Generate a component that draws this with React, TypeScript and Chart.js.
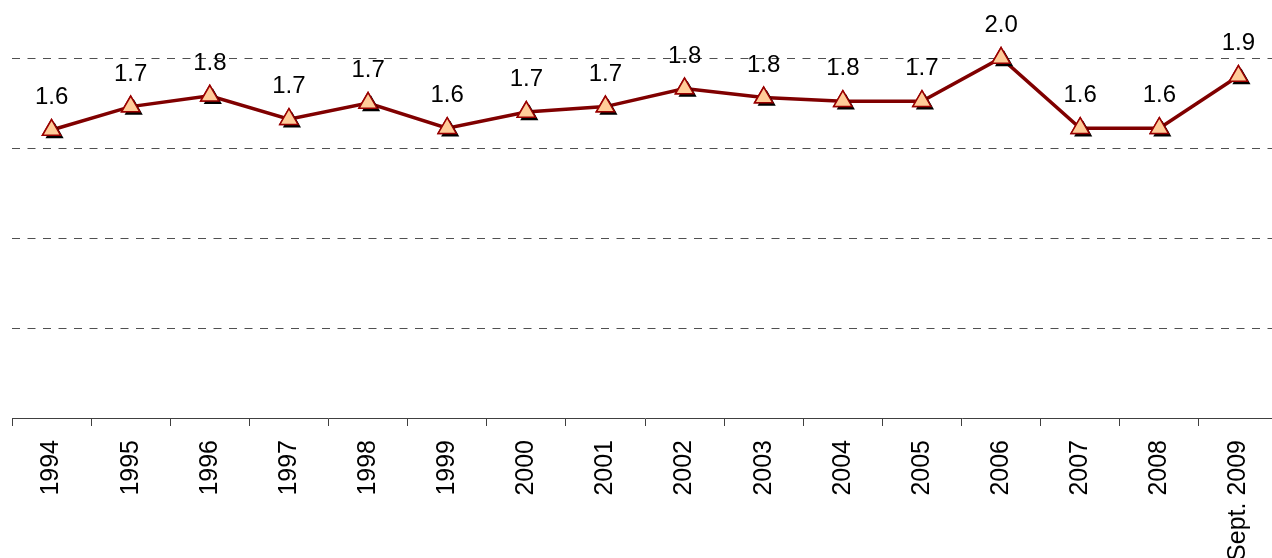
import React, { useEffect, useRef } from 'react';
import { Chart, registerables } from 'chart.js';

Chart.register(...registerables);

const categories = ['1994', '1995', '1996', '1997', '1998', '1999', '2000', '2001', '2002', '2003', '2004', '2005', '2006', '2007', '2008', 'Sept. 2009'];
const values = [1.60, 1.73, 1.79, 1.66, 1.75, 1.61, 1.70, 1.73, 1.83, 1.78, 1.76, 1.76, 2.00, 1.61, 1.61, 1.90];
const valueLabels = ['1.6', '1.7', '1.8', '1.7', '1.7', '1.6', '1.7', '1.7', '1.8', '1.8', '1.8', '1.7', '2.0', '1.6', '1.6', '1.9'];
const yMin = 0;
const yMax = 2;
const yStep = 0.5;

const FONT = "'Liberation Sans', Arial, sans-serif";

const pointPlugin = {
  id: 'shadowAndLabels',
  afterDatasetsDraw(chart: any) {
    const ctx = chart.ctx;
    const meta = chart.getDatasetMeta(0);
    meta.data.forEach((el: any, i: number) => {
      const r = 10.5;
      const sx = el.x + 3;
      const sy = el.y + 3;
      ctx.save();
      ctx.fillStyle = '#000000';
      ctx.beginPath();
      ctx.moveTo(sx, sy - r);
      ctx.lineTo(sx + Math.sin(2 * Math.PI / 3) * r, sy - Math.cos(2 * Math.PI / 3) * r);
      ctx.lineTo(sx + Math.sin(4 * Math.PI / 3) * r, sy - Math.cos(4 * Math.PI / 3) * r);
      ctx.closePath();
      ctx.fill();
      ctx.restore();
      el.draw(ctx);
      ctx.save();
      ctx.fillStyle = '#000000';
      ctx.font = `24px ${FONT}`;
      ctx.textAlign = 'center';
      ctx.textBaseline = 'alphabetic';
      ctx.fillText(valueLabels[i], el.x, el.y - 26);
      ctx.restore();
    });
  },
};

export default function App() {
  const ref = useRef<HTMLCanvasElement | null>(null);
  useEffect(() => {
    if (!ref.current) return;
    const chart = new Chart(ref.current, {
      type: 'line',
      data: {
        labels: categories,
        datasets: [
          {
            data: values,
            borderColor: '#800000',
            borderWidth: 3.5,
            pointStyle: 'triangle',
            pointRadius: 10.5,
            pointBackgroundColor: '#FFCC99',
            pointBorderColor: '#990000',
            pointBorderWidth: 1.5,
            tension: 0,
            clip: false as any,
          },
        ],
      },
      options: {
        responsive: false,
        animation: false,
        devicePixelRatio: 1,
        layout: { padding: { left: 10, right: 8, top: 58, bottom: 0 } },
        plugins: { legend: { display: false }, tooltip: { enabled: false }, title: { display: false } },
        scales: {
          x: {
            offset: true,
            grid: { drawOnChartArea: false, drawTicks: true, tickLength: 8, color: '#404040', tickColor: '#404040', offset: true, lineWidth: 1 },
            border: { display: true, color: '#404040', width: 1 },
            ticks: {
              autoSkip: false,
              minRotation: 90,
              maxRotation: 90,
              color: '#000000',
              padding: 14,
              font: { family: FONT, size: 25 },
            },
            afterFit: (s: any) => {
              s.height = 140;
            },
          },
          y: {
            min: yMin,
            max: yMax,
            ticks: { display: false, stepSize: yStep },
            border: { display: false, dash: [8, 7.5] },
            grid: {
              drawTicks: false,
              color: (c: any) => (c.tick && c.tick.value === 0 ? 'rgba(0,0,0,0)' : '#505050'),
              lineWidth: 1,
            },
            afterFit: (s: any) => {
              s.width = 0;
            },
          },
        },
      },
      plugins: [pointPlugin],
    });
    return () => chart.destroy();
  }, []);
  return (
    <div style={{ position: 'fixed', left: 0, top: 0, width: '1272px', height: '558px', overflow: 'hidden', background: '#ffffff' }}>
      <canvas ref={ref} width={1290} height={558} style={{ display: 'block', width: '1290px', height: '558px' }} />
    </div>
  );
}
